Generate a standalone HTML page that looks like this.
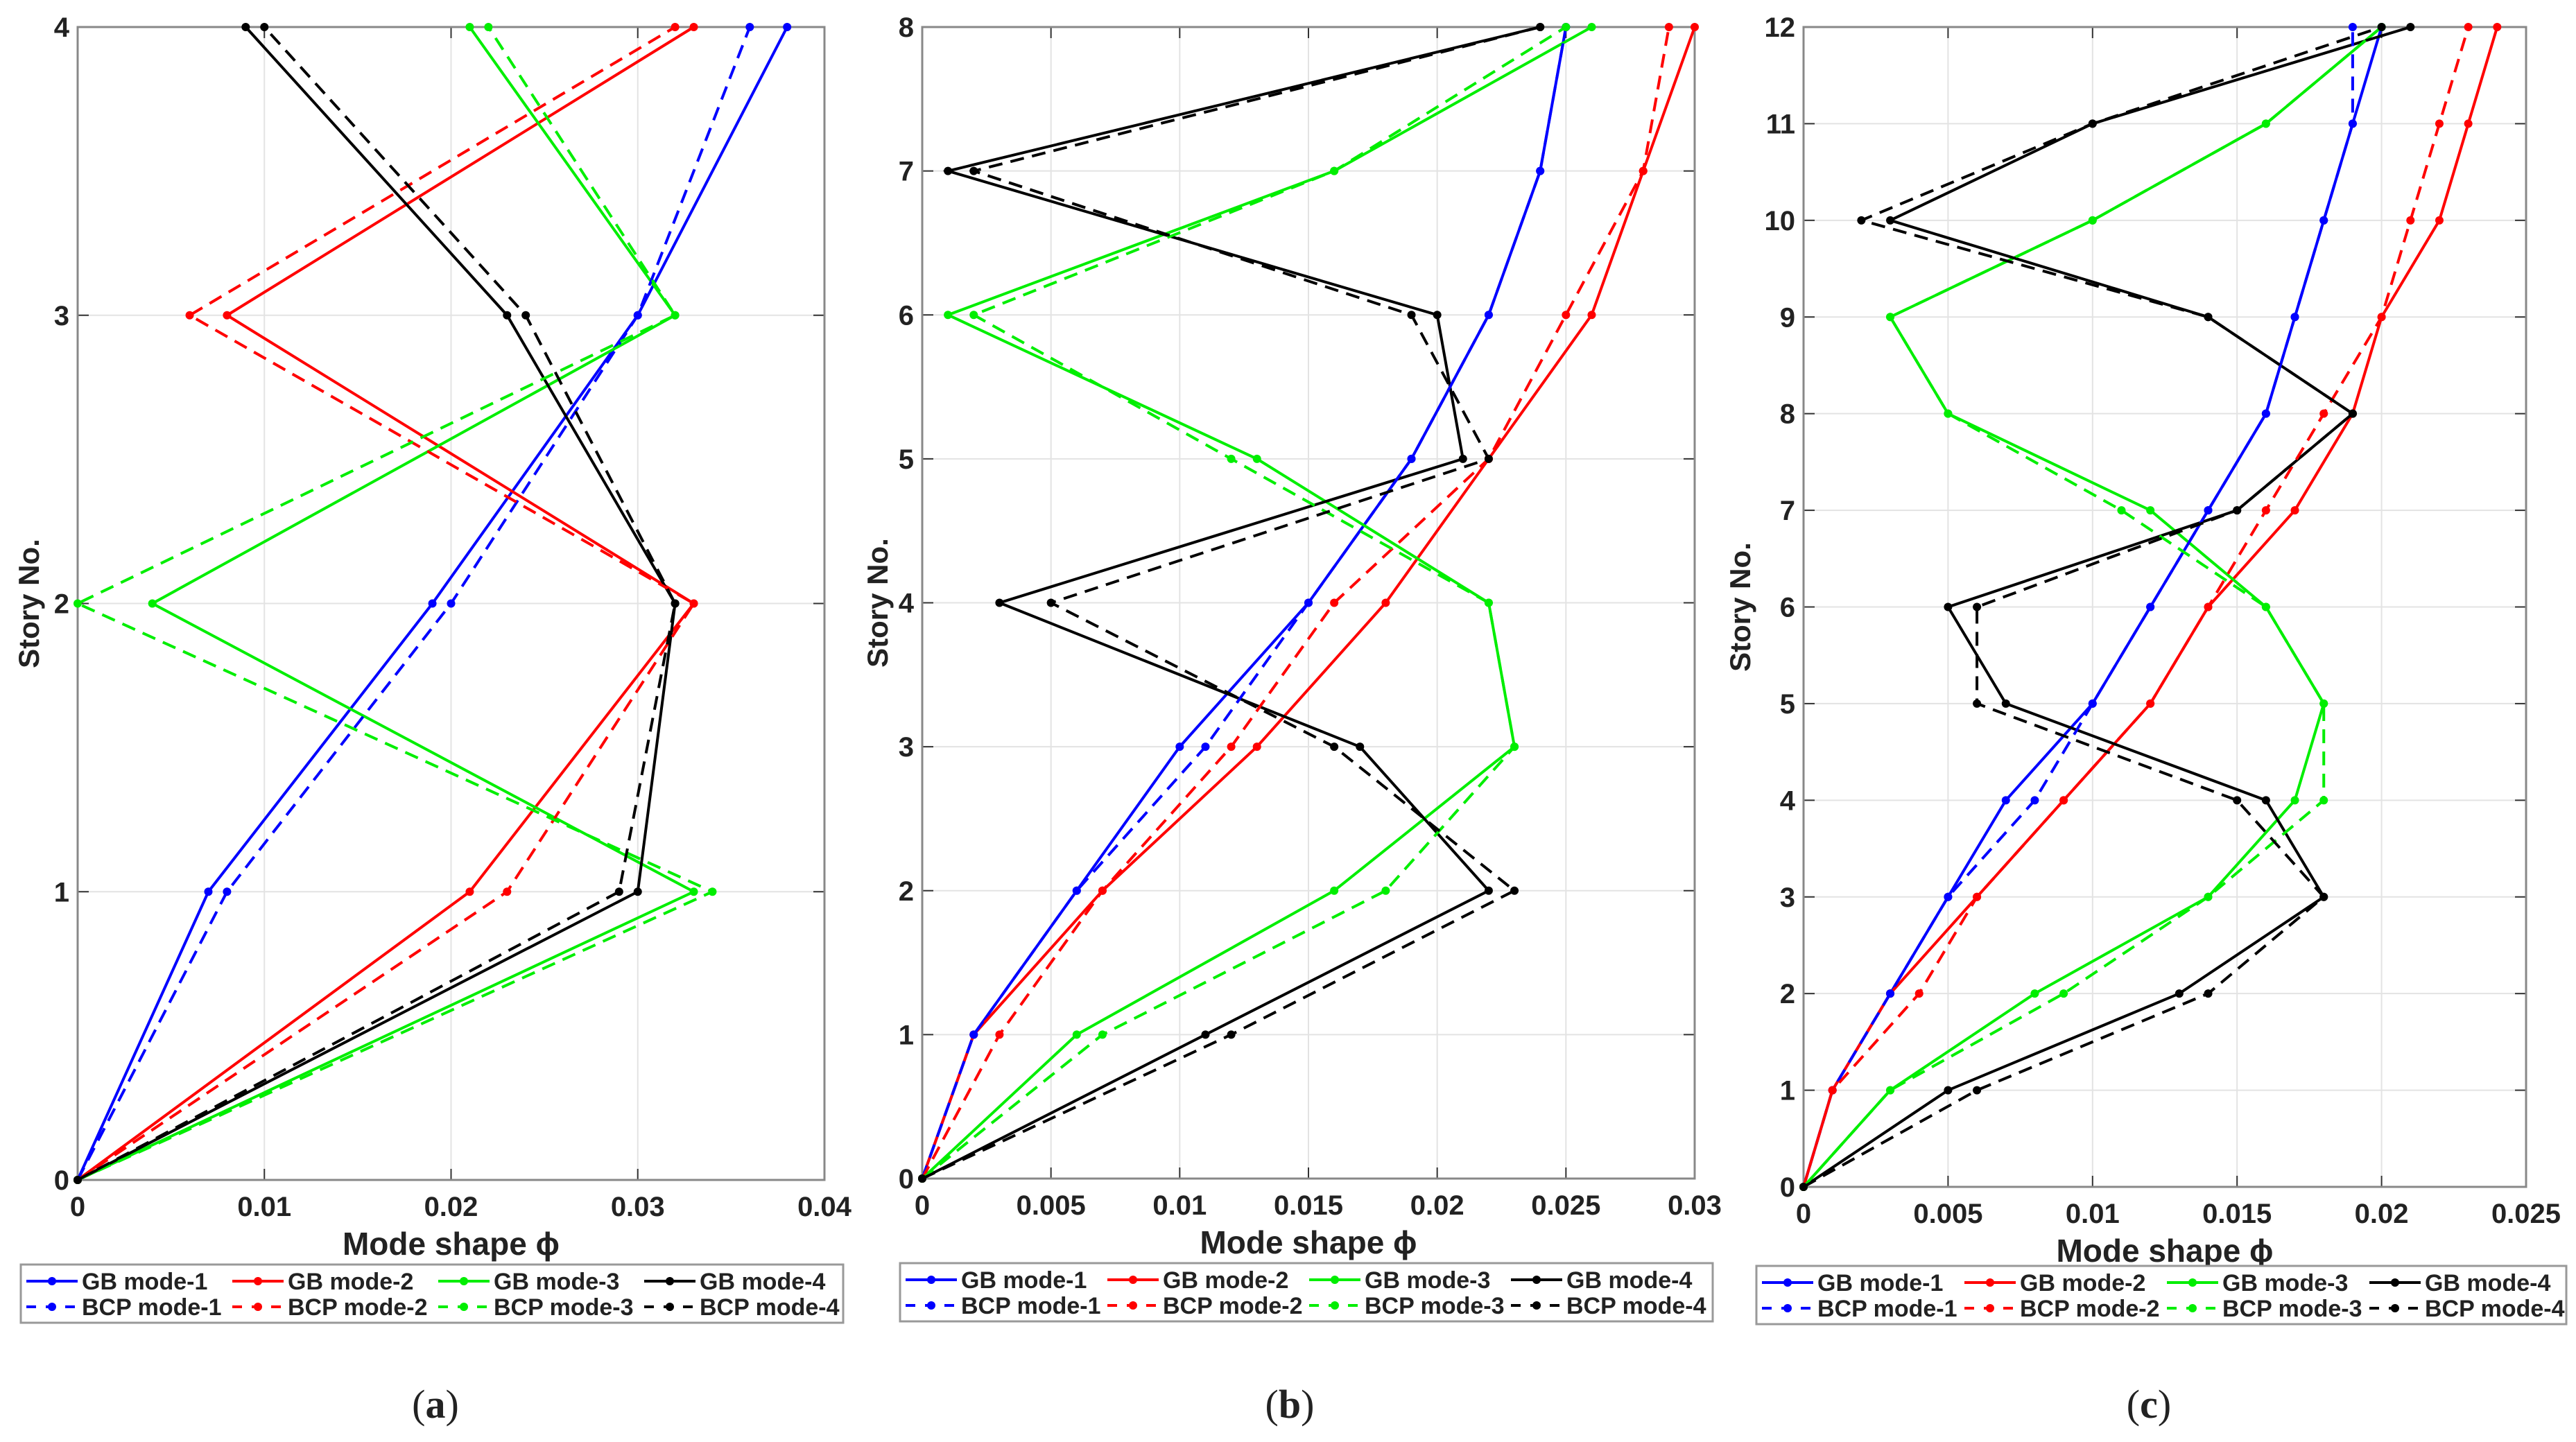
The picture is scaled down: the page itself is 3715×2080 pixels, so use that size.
<!DOCTYPE html>
<html><head><meta charset="utf-8"><style>
body{margin:0;background:#fff}
svg{display:block}
text{font-family:"Liberation Sans Narrow","Liberation Sans",sans-serif;font-weight:bold;fill:#222}
</style></head><body>
<svg id="fig" width="3715" height="2080" viewBox="0 0 3715 2080" xmlns="http://www.w3.org/2000/svg"></svg>
<script>
// Panel (a) data
const storiesA = [0,1,2,3,4];
const gb1A = [0,0.007,0.019,0.030,0.038];
const bcp1A = [0,0.008,0.020,0.030,0.036];
const gb2A = [0,0.021,0.033,0.008,0.033];
const bcp2A = [0,0.023,0.033,0.006,0.032];
const gb3A = [0,0.033,0.004,0.032,0.021];
const bcp3A = [0,0.034,0.000,0.032,0.022];
const gb4A = [0,0.030,0.032,0.023,0.009];
const bcp4A = [0,0.029,0.032,0.024,0.010];
const xTicksA = ["0","0.01","0.02","0.03","0.04"];
// Panel (b) data
const storiesB = [0,1,2,3,4,5,6,7,8];
const gb1B = [0,0.002,0.006,0.010,0.015,0.019,0.022,0.024,0.025];
const bcp1B = [0,0.002,0.006,0.011,0.015,0.019,0.022,0.024,0.025];
const gb2B = [0,0.002,0.007,0.013,0.018,0.022,0.026,0.028,0.030];
const bcp2B = [0,0.003,0.007,0.012,0.016,0.022,0.025,0.028,0.029];
const gb3B = [0,0.006,0.016,0.023,0.022,0.013,0.001,0.016,0.026];
const bcp3B = [0,0.007,0.018,0.023,0.022,0.012,0.002,0.016,0.025];
const gb4B = [0,0.011,0.022,0.017,0.003,0.021,0.020,0.001,0.024];
const bcp4B = [0,0.012,0.023,0.016,0.005,0.022,0.019,0.002,0.024];
const xTicksB = ["0","0.005","0.01","0.015","0.02","0.025","0.03"];
// Panel (c) data
const storiesC = [0,1,2,3,4,5,6,7,8,9,10,11,12];
const gb1C = [0,0.001,0.003,0.005,0.007,0.010,0.012,0.014,0.016,0.017,0.018,0.019,0.020];
const bcp1C = [0,0.001,0.003,0.005,0.008,0.010,0.012,0.014,0.016,0.017,0.018,0.019,0.019];
const gb2C = [0,0.001,0.003,0.006,0.009,0.012,0.014,0.017,0.019,0.020,0.022,0.023,0.024];
const bcp2C = [0,0.001,0.004,0.006,0.009,0.012,0.014,0.016,0.018,0.020,0.021,0.022,0.023];
const gb3C = [0,0.003,0.008,0.014,0.017,0.018,0.016,0.012,0.005,0.003,0.010,0.016,0.020];
const bcp3C = [0,0.003,0.009,0.014,0.018,0.018,0.016,0.011,0.005,0.003,0.010,0.016,0.020];
const gb4C = [0,0.005,0.013,0.018,0.016,0.007,0.005,0.015,0.019,0.014,0.003,0.010,0.021];
const bcp4C = [0,0.006,0.014,0.018,0.015,0.006,0.006,0.015,0.019,0.014,0.002,0.010,0.020];
const xTicksC = ["0","0.005","0.01","0.015","0.02","0.025"];
const legendLabels = ["GB mode-1","GB mode-2","GB mode-3","GB mode-4","BCP mode-1","BCP mode-2","BCP mode-3","BCP mode-4"];

const NS="http://www.w3.org/2000/svg";
const svg=document.getElementById('fig');
function mk(tag,attrs,parent){const e=document.createElementNS(NS,tag);for(const k in attrs)e.setAttribute(k,attrs[k]);(parent||svg).appendChild(e);return e;}
const colors=["#0000ff","#ff0000","#00ee00","#000000"];

function panel(cfg){
  const g=mk('g',{});
  
  
  const L=cfg.left,R=cfg.right,T=cfg.top,B=cfg.bottom;
  const xmax=cfg.xmax,ymax=cfg.stories[cfg.stories.length-1];
  const sx=v=>L+(R-L)*v/xmax, sy=v=>B-(B-T)*v/ymax;
  // grid
  cfg.xticks.forEach((t,i)=>{const v=parseFloat(t);const x=sx(v);
    const gl=mk('line',{x1:x,y1:T,x2:x,y2:B,stroke:'#e3e3e3','stroke-width':2},g);
    
    mk('line',{x1:x,y1:B,x2:x,y2:B-16,stroke:'#333','stroke-width':2},g);
    mk('line',{x1:x,y1:T,x2:x,y2:T+16,stroke:'#333','stroke-width':2},g);
    const tx=mk('text',{x:x,y:B+52,'font-size':40,'text-anchor':'middle'},g);tx.textContent=t;
    
  });
  cfg.stories.forEach(s=>{const y=sy(s);
    mk('line',{x1:L,y1:y,x2:R,y2:y,stroke:'#e3e3e3','stroke-width':2},g);
    mk('line',{x1:L,y1:y,x2:L+16,y2:y,stroke:'#333','stroke-width':2},g);
    mk('line',{x1:R,y1:y,x2:R-16,y2:y,stroke:'#333','stroke-width':2},g);
    const ty=mk('text',{x:L-12,y:y+14,'font-size':40,'text-anchor':'end'},g);ty.textContent=String(s);
    
  });
  const box=mk('rect',{x:L,y:T,width:R-L,height:B-T,fill:'none',stroke:'#888','stroke-width':3},g);
  
  // series
  cfg.series.forEach((vals,i)=>{
    const dashed=i>=4,c=colors[i%4];
    const pts=vals.map((v,k)=>sx(v)+','+sy(cfg.stories[k])).join(' ');
    const pl=mk('polyline',{points:pts,fill:'none',stroke:c,'stroke-width':4,'stroke-dasharray':dashed?'20 12':'none'},g);
    
    
    vals.forEach((v,k)=>{
      const m=mk('circle',{cx:sx(v),cy:sy(cfg.stories[k]),r:6,fill:c},g);
      
    });
  });
  const xt=mk('text',{x:(L+R)/2,y:B+108,'font-size':46,'text-anchor':'middle'},g);
  xt.textContent='Mode  shape  \u03d5';
  
  const yt=mk('text',{x:0,y:0,'font-size':42,'text-anchor':'middle',transform:'translate('+(cfg.ylabX)+','+((T+B)/2)+') rotate(-90)'},g);
  yt.textContent='Story No.';
  
  // legend
  const lg=mk('g',{},g);
  
  mk('rect',{x:cfg.legX,y:cfg.legY,width:cfg.legW,height:84,fill:'#fff',stroke:'#999','stroke-width':3},lg);
  legendLabels.forEach((lab,i)=>{
    const col=i%4,row=Math.floor(i/4);
    const x0=cfg.legX+8+col*cfg.legStep,y=cfg.legY+24+row*37;
    const e=mk('g',{},lg);
    
    mk('line',{x1:x0,y1:y,x2:x0+74,y2:y,stroke:colors[col],'stroke-width':4,'stroke-dasharray':row?'14 14':'none'},e);
    mk('circle',{cx:x0+37,cy:y,r:6,fill:colors[col]},e);
    const t=mk('text',{x:x0+80,y:y+12,'font-size':34},e);t.textContent=lab;
  });
  const pl=mk('text',{x:cfg.capX,y:2045,'font-size':58,'text-anchor':'middle',style:'font-family:"Liberation Serif",serif;font-weight:normal'},g);
  pl.innerHTML='(<tspan font-weight="bold">'+cfg.id+'</tspan>)';
  
}
panel({id:'a',left:112,right:1189,top:39,bottom:1702,xmax:0.04,stories:storiesA,xticks:xTicksA,
  series:[gb1A,gb2A,gb3A,gb4A,bcp1A,bcp2A,bcp3A,bcp4A],ylabX:56,legX:30,legY:1824,legW:1186,legStep:297,capX:628});
panel({id:'b',left:1330,right:2444,top:39,bottom:1700,xmax:0.03,stories:storiesB,xticks:xTicksB,
  series:[gb1B,gb2B,gb3B,gb4B,bcp1B,bcp2B,bcp3B,bcp4B],ylabX:1280,legX:1298,legY:1822,legW:1172,legStep:291,capX:1860});
panel({id:'c',left:2601,right:3643,top:39,bottom:1712,xmax:0.025,stories:storiesC,xticks:xTicksC,
  series:[gb1C,gb2C,gb3C,gb4C,bcp1C,bcp2C,bcp3C,bcp4C],ylabX:2524,legX:2533,legY:1826,legW:1168,legStep:292,capX:3099});
</script>
</body></html>
